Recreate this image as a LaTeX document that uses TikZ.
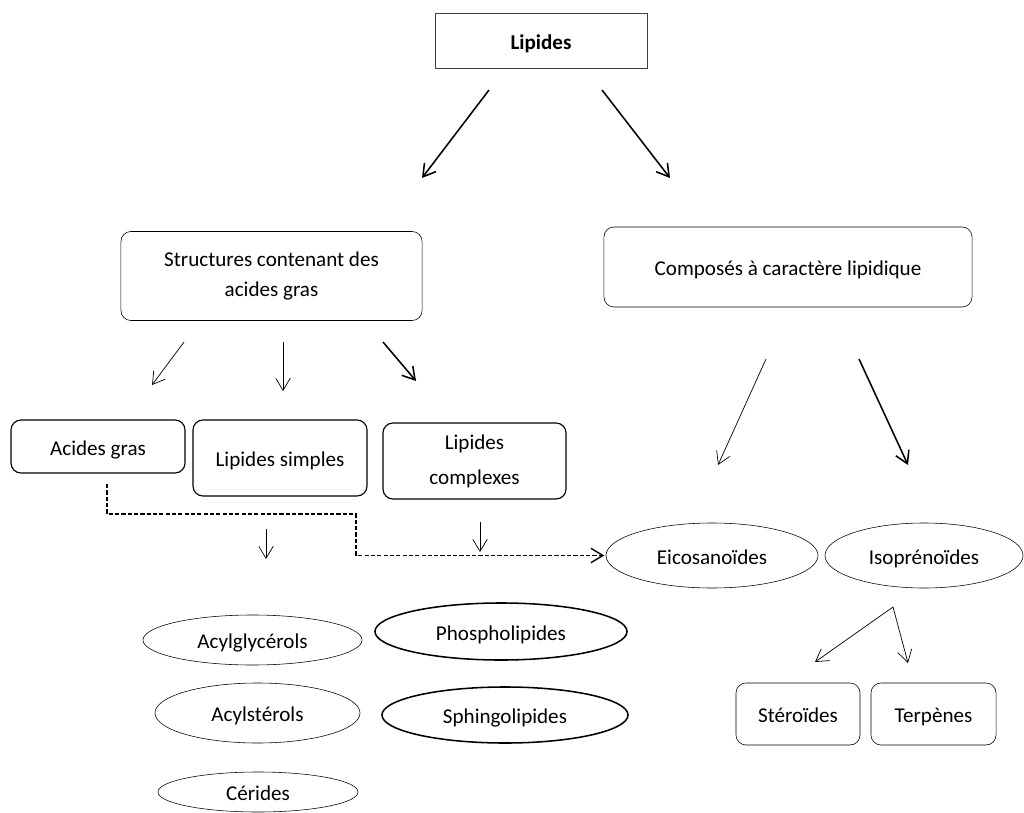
\documentclass[tikz,border=0pt]{standalone}
\usepackage{fontspec}
\setmainfont{Carlito}
\usetikzlibrary{arrows.meta,shapes.geometric}
\tikzset{
    box/.style={draw, rounded corners=0.25cm, align=center, inner sep=0pt},
    line/.style={text height=12.5pt, text depth=0pt},
    oval/.style={draw, ellipse, inner sep=0pt, line},
    arr/.style={-{Straight Barb[length=0.3cm, width=0.36cm]}, line width=0.5pt},
    thickarr/.style={arr, line width=1.1pt}
}
\begin{document}
\begin{tikzpicture}[x=0.025cm, y=-0.025cm, font=\fontsize{15}{21}\selectfont]
    \useasboundingbox (0, 0) rectangle (1024, 813);
    \node[draw=black!75, inner sep=0pt, line, minimum width=5.3cm, minimum height=1.375cm] (lipides) at(541, 40.5) {\textbf{Lipides}};
    \node[box, minimum width=7.525cm, minimum height=2.225cm] (struct) at(271.5, 276) {Structures contenant des\\acides gras};
    \node[box, line, minimum width=9.2cm, minimum height=2cm] (composes) at(788, 267) {Composés à caractère lipidique};
    \node[box, line, line width=0.8pt, minimum width=4.35cm, minimum height=1.325cm] (acides) at(98, 446.5) {Acides gras};
    \node[box, line, line width=0.8pt, minimum width=4.35cm, minimum height=1.9cm] (simples) at(280, 458) {Lipides simples};
    \node[box, line width=0.8pt, minimum width=4.575cm, minimum height=1.9cm] (complexes) at(474.5, 461) {Lipides\\[4pt]complexes};
    \node[oval, minimum width=5.3cm, minimum height=1.625cm] (eico) at(712, 555.5) {Eicosanoïdes};
    \node[oval, minimum width=4.95cm, minimum height=1.625cm] (iso) at(924, 555.5) {Isoprénoïdes};
    \node[oval, minimum width=5.475cm, minimum height=1.25cm] (acylgly) at(252.5, 640) {Acylglycérols};
    \node[oval, minimum width=5.125cm, minimum height=1.5cm] (acylst) at(257.5, 713) {Acylstérols};
    \node[oval, minimum width=5cm, minimum height=1cm] (cerides) at(258, 792) {Cérides};
    \node[oval, line width=1.1pt, minimum width=6.3cm, minimum height=1.425cm] (phospho) at(501, 631.5) {Phospholipides};
    \node[oval, line width=1.1pt, minimum width=6.15cm, minimum height=1.4cm] (sphingo) at(505, 715) {Sphingolipides};
    \node[box, line, minimum width=3.1cm, minimum height=1.55cm] (steroides) at(798, 714) {Stéroïdes};
    \node[box, line, minimum width=3.125cm, minimum height=1.55cm] (terpenes) at(933.5, 714) {Terpènes};
    \coordinate (l1) at(489, 90);
    \coordinate (l2) at(422, 178);
    \coordinate (r1) at(602, 90);
    \coordinate (r2) at(670, 178);
    \draw[thickarr] (l1) -- (l2);
    \draw[thickarr] (r1) -- (r2);
    \coordinate (s1) at(184, 342);
    \coordinate (s2) at(152, 385);
    \coordinate (s3) at(283, 342);
    \coordinate (s4) at(283, 391);
    \coordinate (s5) at(383, 342);
    \coordinate (s6) at(416, 381);
    \draw[arr] (s1) -- (s2);
    \draw[arr] (s3) -- (s4);
    \draw[thickarr] (s5) -- (s6);
    \coordinate (c1) at(766, 359);
    \coordinate (c2) at(718, 465);
    \coordinate (c3) at(859, 359);
    \coordinate (c4) at(908, 465);
    \draw[arr] (c1) -- (c2);
    \draw[thickarr] (c3) -- (c4);
    \coordinate (p1) at(266, 529);
    \coordinate (p2) at(266, 559);
    \coordinate (p3) at(480, 522);
    \coordinate (p4) at(480, 552);
    \draw[arr] (p1) -- (p2);
    \draw[arr] (p3) -- (p4);
    \coordinate (d0) at(107, 484);
    \coordinate (d1) at(356, 514);
    \draw[arr, line width=1pt, dash pattern=on 3pt off 1.5pt, shorten >=1pt] (d0) |- (d1) |- (eico.west);
    \coordinate (i0) at(893, 607);
    \coordinate (i1) at(815, 662);
    \coordinate (i2) at(908, 663);
    \draw[arr] (i0) -- (i1);
    \draw[arr] (i0) -- (i2);
\end{tikzpicture}
\end{document}
